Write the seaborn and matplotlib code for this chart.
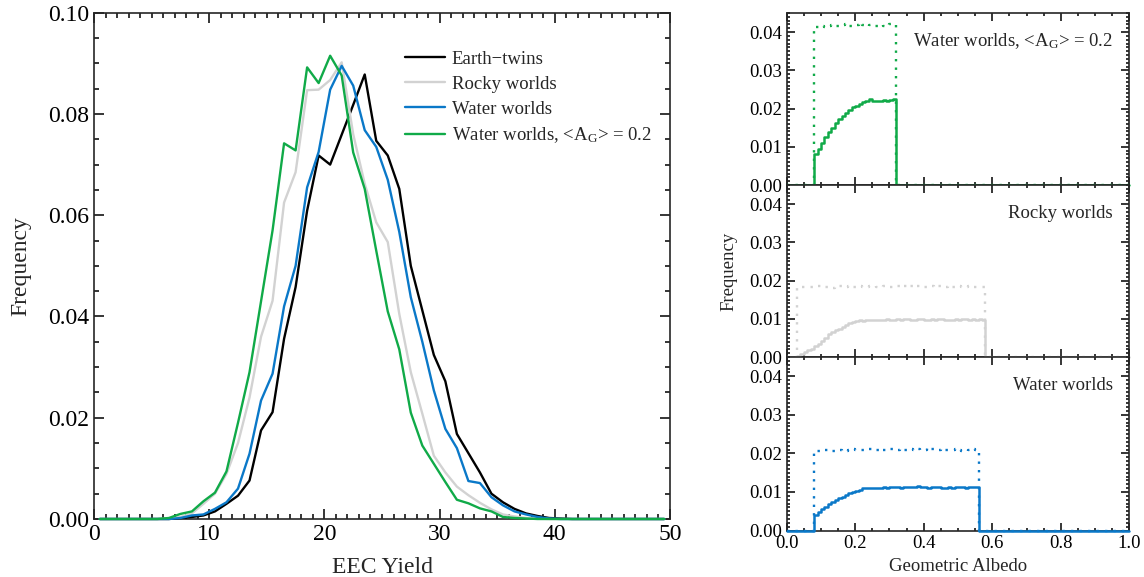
import numpy as np
import pandas as pd
import seaborn as sns
import matplotlib.pyplot as plt
from matplotlib.ticker import MultipleLocator, FormatStrFormatter

# ================================
# EEC yield distributions (one value per unit-yield bin, 0-50)
# ================================
yield_centers = np.arange(0.5, 50.0, 1.0)

earth_twins = [0, 0, 0, 0, 0, 0, 0, 0.0002, 0.0004, 0.0007,
               0.0015, 0.0030, 0.0046, 0.0076, 0.0175, 0.0211, 0.0356, 0.0458, 0.0609, 0.0718,
               0.0700, 0.0759, 0.0818, 0.0878, 0.0747, 0.0718, 0.0652, 0.0500, 0.0412, 0.0324,
               0.0272, 0.0168, 0.0130, 0.0092, 0.0050, 0.0033, 0.0020, 0.0011, 0.0006, 0.0002,
               0.0001, 0, 0, 0, 0, 0, 0, 0, 0, 0]
rocky_worlds = [0, 0, 0, 0, 0, 0, 0.0001, 0.0004, 0.0011, 0.0030,
                0.0050, 0.0089, 0.0150, 0.0240, 0.0360, 0.0431, 0.0625, 0.0685, 0.0847, 0.0848,
                0.0867, 0.0902, 0.0760, 0.0662, 0.0586, 0.0547, 0.0405, 0.0290, 0.0208, 0.0125,
                0.0092, 0.0064, 0.0047, 0.0032, 0.0019, 0.0009, 0.0005, 0.0002, 0.0001, 0,
                0, 0, 0, 0, 0, 0, 0, 0, 0, 0]
water_worlds = [0, 0, 0, 0, 0, 0, 0, 0.0002, 0.0007, 0.0009,
                0.0020, 0.0033, 0.0060, 0.0129, 0.0234, 0.0287, 0.0420, 0.0500, 0.0655, 0.0725,
                0.0848, 0.0895, 0.0856, 0.0768, 0.0735, 0.0670, 0.0567, 0.0438, 0.0350, 0.0254,
                0.0178, 0.0140, 0.0075, 0.0071, 0.0043, 0.0027, 0.0015, 0.0009, 0.0004, 0.0001,
                0, 0, 0, 0, 0, 0, 0, 0, 0, 0]
water_ag02 = [0, 0, 0, 0, 0, 0, 0.0002, 0.0010, 0.0015, 0.0035,
              0.0052, 0.0094, 0.0190, 0.0290, 0.0430, 0.0570, 0.0742, 0.0728, 0.0892, 0.0861,
              0.0915, 0.0876, 0.0724, 0.0652, 0.0530, 0.0410, 0.0335, 0.0210, 0.0145, 0.0109,
              0.0073, 0.0038, 0.0031, 0.0021, 0.0015, 0.0004, 0.0002, 0.0001, 0, 0,
              0, 0, 0, 0, 0, 0, 0, 0, 0, 0]

series_names = ["Earth\u2212twins", "Rocky worlds", "Water worlds",
                "Water worlds, <A$_{G}$> = 0.2"]
series_colors = ["black", "#d2d2d2", "#0a78c8", "#10aa48"]

# ================================
# Geometric albedo histograms (bin width 0.01)
# ================================
albedo_bin = 0.01

ag02_start = 0.08
ag02_detected = [0.0081, 0.0095, 0.0110, 0.0125, 0.0138, 0.0150, 0.0162, 0.0173, 0.0181, 0.0189,
                 0.0197, 0.0203, 0.0207, 0.0212, 0.0218, 0.0221, 0.0224, 0.0219, 0.0221, 0.0220,
                 0.0222, 0.0221, 0.0223, 0.0224]
ag02_input = [0.0413, 0.0414, 0.0415, 0.0414, 0.0416, 0.0418, 0.0416, 0.0415, 0.0419, 0.0421,
              0.0417, 0.0416, 0.0418, 0.0423, 0.0419, 0.0417, 0.0418, 0.0416, 0.0417, 0.0418,
              0.0416, 0.0419, 0.0422, 0.0420]

rocky_start = 0.03
rocky_detected = [0.0003, 0.0008, 0.0013, 0.0018, 0.0022, 0.0028, 0.0035, 0.0042, 0.0051, 0.0060,
                  0.0066, 0.0070, 0.0073, 0.0079, 0.0085, 0.0089, 0.0092, 0.0095, 0.0096, 0.0094,
                  0.0096, 0.0097, 0.0096, 0.0098, 0.0097, 0.0098, 0.0099, 0.0097, 0.0098, 0.0099,
                  0.0098, 0.0100, 0.0099, 0.0097, 0.0098, 0.0099, 0.0100, 0.0098, 0.0097, 0.0099,
                  0.0098, 0.0100, 0.0099, 0.0098, 0.0097, 0.0098, 0.0099, 0.0098, 0.0100, 0.0099,
                  0.0098, 0.0099, 0.0098, 0.0099, 0.0098]
rocky_input = [0.0181, 0.0183, 0.0182, 0.0184, 0.0182, 0.0183, 0.0185, 0.0182, 0.0184, 0.0183,
               0.0181, 0.0184, 0.0186, 0.0183, 0.0182, 0.0185, 0.0184, 0.0183, 0.0186, 0.0184,
               0.0182, 0.0185, 0.0187, 0.0184, 0.0183, 0.0186, 0.0185, 0.0183, 0.0187, 0.0185,
               0.0184, 0.0186, 0.0188, 0.0185, 0.0184, 0.0186, 0.0185, 0.0184, 0.0187, 0.0185,
               0.0183, 0.0186, 0.0185, 0.0184, 0.0186, 0.0183, 0.0185, 0.0186, 0.0184, 0.0183,
               0.0185, 0.0184, 0.0183, 0.0184, 0.0182]

water_start = 0.08
water_detected = [0.0039, 0.0048, 0.0056, 0.0062, 0.0068, 0.0074, 0.0079, 0.0084, 0.0088, 0.0092,
                  0.0096, 0.0099, 0.0103, 0.0106, 0.0110, 0.0110, 0.0109, 0.0111, 0.0110, 0.0111,
                  0.0112, 0.0111, 0.0112, 0.0113, 0.0112, 0.0111, 0.0112, 0.0113, 0.0114, 0.0112,
                  0.0115, 0.0113, 0.0112, 0.0111, 0.0112, 0.0113, 0.0112, 0.0111, 0.0110, 0.0112,
                  0.0111, 0.0112, 0.0113, 0.0112, 0.0111, 0.0112, 0.0113, 0.0113]
water_input = [0.0205, 0.0207, 0.0206, 0.0208, 0.0207, 0.0205, 0.0208, 0.0209, 0.0207, 0.0206,
               0.0210, 0.0212, 0.0209, 0.0208, 0.0210, 0.0209, 0.0211, 0.0208, 0.0210, 0.0212,
               0.0209, 0.0208, 0.0211, 0.0210, 0.0209, 0.0212, 0.0210, 0.0208, 0.0211, 0.0210,
               0.0212, 0.0209, 0.0210, 0.0213, 0.0211, 0.0209, 0.0210, 0.0212, 0.0209, 0.0208,
               0.0210, 0.0211, 0.0209, 0.0207, 0.0206, 0.0210, 0.0211, 0.0209]


def step_frame(start, values):
    """ Turn a histogram into step points covering albedo 0-1 """
    n = len(values)
    xs = [0.0] + [start + i * albedo_bin for i in range(n)] + [start + n * albedo_bin, 1.0]
    ys = [0.0] + list(values) + [0.0, 0.0]
    return pd.DataFrame({"albedo": xs, "freq": ys})


def style_axis(ax, size):
    ax.tick_params(which="both", direction="in", top=True, right=True,
                   labelsize=size, width=1.1, colors="black")
    for s in ax.spines.values():
        s.set_linewidth(1.2)
        s.set_zorder(2)


sns.set_style("ticks")
plt.rcParams["font.family"] = ["Liberation Serif", "DejaVu Serif"]
plt.rcParams["mathtext.fontset"] = "custom"
plt.rcParams["mathtext.rm"] = "Liberation Serif"
plt.rcParams["mathtext.default"] = "regular"

fig = plt.figure(figsize=(11.44, 5.77), dpi=100)
W, H = 1144.0, 577.0

# ================================
# Left panel: EEC yield
# ================================
ax = fig.add_axes([94 / W, (H - 519) / H, 576 / W, (519 - 12.7) / H])
long_df = pd.concat([
    pd.DataFrame({"yield": yield_centers, "freq": vals, "series": name})
    for name, vals in zip(series_names, [earth_twins, rocky_worlds, water_worlds, water_ag02])
])
sns.lineplot(data=long_df, x="yield", y="freq", hue="series", hue_order=series_names,
             palette=series_colors, linewidth=1.7, estimator=None, errorbar=None,
             clip_on=False, zorder=3, ax=ax)
ax.set_xlim(0, 50)
ax.set_ylim(0, 0.10)
ax.xaxis.set_major_locator(MultipleLocator(10))
ax.xaxis.set_minor_locator(MultipleLocator(1))
ax.yaxis.set_major_locator(MultipleLocator(0.02))
ax.yaxis.set_minor_locator(MultipleLocator(0.005))
ax.yaxis.set_major_formatter(FormatStrFormatter("%.2f"))
style_axis(ax, 17)
ax.tick_params(which="major", length=7)
ax.tick_params(which="minor", length=3.5)
ax.set_xlabel("EEC Yield", fontsize=17, labelpad=9)
ax.set_ylabel("Frequency", fontsize=17, labelpad=12)
ax.legend(loc="upper left", bbox_to_anchor=(0.54, 0.925), frameon=False, fontsize=13.5,
          handlelength=2.15, handletextpad=0.35, labelspacing=0.42,
          borderpad=0, borderaxespad=0)

# ================================
# Right panels: geometric albedo
# ================================
panels = [
    ("Water worlds, <A$_{G}$> = 0.2", series_colors[3], ag02_start, ag02_detected, ag02_input),
    ("Rocky worlds", series_colors[1], rocky_start, rocky_detected, rocky_input),
    ("Water worlds", series_colors[2], water_start, water_detected, water_input),
]
tops = [13.0, 185.0, 357.0]
heights = [172.0, 172.0, 173.5]
axes_r = []
for (label, color, start, detected, inp), top, h in zip(panels, tops, heights):
    axr = fig.add_axes([786.7 / W, (H - top - h) / H, 342.6 / W, h / H])
    sns.lineplot(data=step_frame(start, inp), x="albedo", y="freq", color=color,
                 drawstyle="steps-post", linewidth=1.7, dashes=False, estimator=None,
                 clip_on=False, zorder=3, ax=axr).lines[-1].set_dashes((1, 2.6))
    sns.lineplot(data=step_frame(start, detected), x="albedo", y="freq", color=color,
                 drawstyle="steps-post", linewidth=1.8, estimator=None,
                 clip_on=False, zorder=4, ax=axr)
    axr.set_xlim(0, 1)
    axr.set_ylim(0, 0.045)
    axr.xaxis.set_major_locator(MultipleLocator(0.2))
    axr.xaxis.set_minor_locator(MultipleLocator(0.05))
    axr.yaxis.set_major_locator(MultipleLocator(0.01))
    axr.yaxis.set_minor_locator(MultipleLocator(0.001))
    axr.yaxis.set_major_formatter(FormatStrFormatter("%.2f"))
    style_axis(axr, 13.5)
    axr.tick_params(which="major", length=6)
    axr.tick_params(which="minor", length=2.5)
    axr.set_xlabel("")
    axr.set_ylabel("")
    axr.text(0.952, 0.835, label, transform=axr.transAxes, ha="right", va="center",
             fontsize=13.5)
    axes_r.append(axr)

for axr in axes_r[:2]:
    axr.tick_params(labelbottom=False)
axes_r[1].set_ylabel("Frequency", fontsize=13.5, labelpad=8)
axes_r[2].xaxis.set_major_formatter(FormatStrFormatter("%.1f"))
axes_r[2].set_xlabel("Geometric Albedo", fontsize=13.5, labelpad=4)

fig.savefig("out.png", dpi=100)
